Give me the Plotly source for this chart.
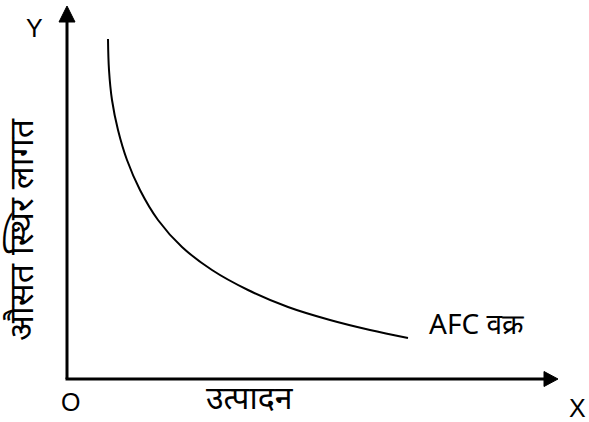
import plotly.graph_objects as go

# AFC curve points (output, average fixed cost)
output_q = [41, 42, 45, 51, 60, 73, 91, 115, 145, 181, 221, 263, 303, 341]
afc_values = [340, 309, 279, 249, 219, 189, 159, 132, 109, 89, 72, 59, 49, 41]

x_label = "उत्पादन"
y_label = "औसत स्थिर लागत"
curve_label = "AFC वक्र"

DEV = "Noto Sans Devanagari, Noto Sans, Lohit Devanagari, Nirmala UI, sans-serif"
LAT = "Liberation Sans, Arial, sans-serif"

fig = go.Figure()
fig.add_trace(go.Scatter(x=output_q, y=afc_values, mode="lines",
                         line=dict(color="black", width=2, shape="spline", smoothing=1.0),
                         hoverinfo="skip", showlegend=False))

shapes = [
    dict(type="line", x0=0, y0=0, x1=0, y1=358, line=dict(color="black", width=3)),
    dict(type="path", path="M -8 357 L 8 357 L 0 373 Z", fillcolor="black", line=dict(color="black", width=1)),
    dict(type="line", x0=-1.5, y0=0, x1=478, y1=0, line=dict(color="black", width=3)),
    dict(type="path", path="M 477 -7.5 L 477 7.5 L 491 0 Z", fillcolor="black", line=dict(color="black", width=1)),
]

annotations = [
    dict(x=-33, y=351, text="Y", showarrow=False, font=dict(family=LAT, size=25, color="black")),
    dict(x=3, y=-23, text="O", showarrow=False, font=dict(family=LAT, size=25, color="black")),
    dict(x=510, y=-29, text="X", showarrow=False, font=dict(family=LAT, size=25, color="black")),
    dict(x=183, y=-22, text=x_label, showarrow=False, font=dict(family=DEV, size=32, color="black")),
    dict(x=360, y=52, text=curve_label, showarrow=False, xanchor="left",
         font=dict(family=DEV, size=28, color="black")),
    dict(x=-42, y=149, text=y_label, showarrow=False, textangle=-90,
         font=dict(family=DEV, size=34, color="black")),
]

fig.update_layout(
    width=589, height=422,
    margin=dict(l=0, r=0, t=0, b=0),
    paper_bgcolor="white", plot_bgcolor="white",
    xaxis=dict(range=[-67, 522], visible=False, fixedrange=True),
    yaxis=dict(range=[-43, 379], visible=False, fixedrange=True),
    shapes=shapes, annotations=annotations,
    showlegend=False,
)

fig.write_html(
    "out.html",
    config={"displayModeBar": False},
    post_script="document.body.style.margin='0';document.body.style.overflow='hidden';",
)
